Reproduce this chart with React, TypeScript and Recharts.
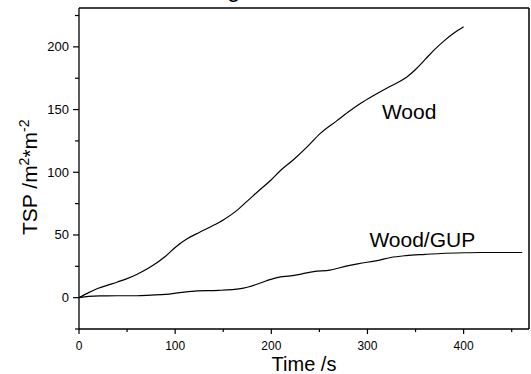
import React from "react";
import { LineChart, Line, XAxis, YAxis, ReferenceDot, ReferenceLine } from "recharts";

// Wood
const woodTime = [0, 10, 20, 30, 40, 50, 60, 75, 90, 100, 112, 125, 137, 150, 163, 175, 189, 200, 209, 223, 237, 251, 268, 280, 293, 306, 320, 330, 341, 350, 360, 370, 380, 390, 400];
const woodTsp = [0, 4, 7.5, 10, 12.5, 15.2, 18.5, 24.8, 33, 40, 46.7, 52, 56.6, 62, 68.8, 77, 86.7, 94, 101, 110, 120, 131, 141, 148, 155, 161, 167, 171, 176, 182, 190, 198, 205, 211, 216];

// Wood/GUP
const gupTime = [0, 10, 22, 40, 60, 75, 90, 105, 123, 145, 168, 185, 195, 206, 220, 232, 244, 261, 279, 291, 310, 324, 340, 360, 376, 400, 417, 440, 461];
const gupTsp = [0, 1, 1.4, 1.5, 1.5, 2, 2.6, 4, 5.4, 5.8, 7.2, 10.7, 13.5, 16, 17.4, 19, 20.8, 21.9, 25.4, 27.2, 29.5, 32, 33.5, 34.5, 35.2, 35.8, 36, 36, 36];

const xTicks = [0, 50, 100, 150, 200, 250, 300, 350, 400, 450];
const yTicks = [-25, 0, 25, 50, 75, 100, 125, 150, 175, 200, 225];
const X_MAX = 468;
const Y_MIN = -25;
const Y_MAX = 231;

const FONT = "'Liberation Sans', Arial, sans-serif";

const woodData = woodTime.map((t, i) => ({ time: t, tsp: woodTsp[i] }));
const gupData = gupTime.map((t, i) => ({ time: t, tsp: gupTsp[i] }));

const XTick = ({ x, y, payload }: any) => {
  const major = payload.value % 100 === 0;
  return (
    <g>
      <line x1={x} x2={x} y1={y} y2={y + (major ? 5 : 3)} stroke="#000" strokeWidth={1.2} />
      {major && (
        <text x={x} y={y + 21} textAnchor="middle" fontSize={12} fontFamily={FONT} fill="#000">
          {payload.value}
        </text>
      )}
    </g>
  );
};

const YTick = ({ x, y, payload }: any) => {
  const major = payload.value % 50 === 0;
  return (
    <g>
      <line x1={x} x2={x - (major ? 6 : 4)} y1={y} y2={y} stroke="#000" strokeWidth={1.2} />
      {major && (
        <text x={x - 10} y={y + 4.5} textAnchor="end" fontSize={13} fontFamily={FONT} fill="#000">
          {payload.value}
        </text>
      )}
    </g>
  );
};

const YTitle = () => (
  <text x={37} y={235} transform="rotate(-90 37 235)" fontSize={21} fontFamily={FONT} fill="#000">
    TSP /m
    <tspan dy={-8} fontSize={14}>2</tspan>
    <tspan dy={8}>*m</tspan>
    <tspan dy={-8} fontSize={14}>-2</tspan>
  </text>
);

const XTitle = () => (
  <text x={304} y={371} textAnchor="middle" fontSize={20} fontFamily={FONT} fill="#000">
    Time /s
  </text>
);

const note = (label: string) => (p: any) =>
  (
    <text x={p.cx} y={p.cy} fontSize={21} fontFamily={FONT} fill="#000">
      {label}
    </text>
  );

export default function App() {
  return (
    <div
      style={{
        position: "absolute",
        left: 0,
        top: 0,
        width: 531,
        height: 374,
        background: "#fff",
        overflow: "hidden",
      }}
    >
      {/* only the tail of the cut-off title shows at the top edge */}
      <span
        style={{
          position: "absolute",
          left: 227,
          top: -23,
          fontSize: 24,
          lineHeight: "24px",
          fontFamily: FONT,
          color: "#000",
        }}
      >
        g
      </span>
      <LineChart width={531} height={374} margin={{ top: 8, right: 2, bottom: 0, left: 0 }}>
        <XAxis
          dataKey="time"
          type="number"
          domain={[0, X_MAX]}
          ticks={xTicks}
          interval={0}
          height={45}
          tickSize={0}
          tickMargin={0}
          tick={<XTick />}
          axisLine={{ stroke: "#000", strokeWidth: 1.3 }}
          label={<XTitle />}
        />
        <YAxis
          type="number"
          domain={[Y_MIN, Y_MAX]}
          ticks={yTicks}
          interval={0}
          width={79}
          tickSize={0}
          tickMargin={0}
          tick={<YTick />}
          axisLine={{ stroke: "#000", strokeWidth: 1.3 }}
          label={<YTitle />}
        />
        {/* top and right edges of the frame */}
        <ReferenceLine y={Y_MAX} stroke="#000" strokeWidth={1.5} ifOverflow="visible" />
        <ReferenceLine x={X_MAX} stroke="#000" strokeWidth={1.5} ifOverflow="visible" />
        <Line
          data={woodData}
          dataKey="tsp"
          type="monotone"
          stroke="#000"
          strokeWidth={1.2}
          dot={false}
          isAnimationActive={false}
        />
        <Line
          data={gupData}
          dataKey="tsp"
          type="monotone"
          stroke="#000"
          strokeWidth={1.2}
          dot={false}
          isAnimationActive={false}
        />
        <ReferenceDot x={315} y={142.7} r={0} shape={note("Wood")} />
        <ReferenceDot x={302} y={40.6} r={0} shape={note("Wood/GUP")} />
      </LineChart>
    </div>
  );
}
